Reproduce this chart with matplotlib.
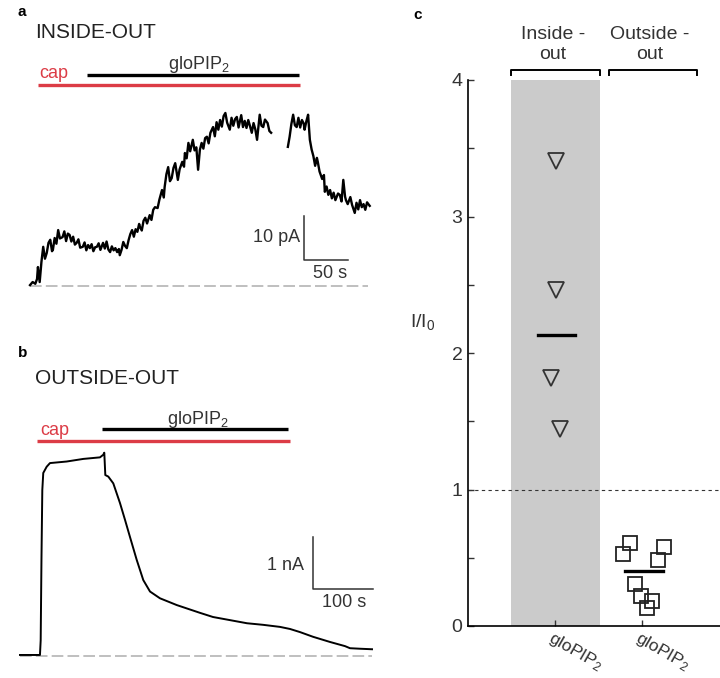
import matplotlib.pyplot as plt

plt.rcParams['font.family'] = ['Liberation Sans', 'DejaVu Sans']
plt.rcParams['mathtext.fontset'] = 'custom'
plt.rcParams['mathtext.rm'] = 'Liberation Sans'
plt.rcParams['mathtext.it'] = 'Liberation Sans:italic'

# ---- panel a: inside-out recording (time in s, current in pA), two segments
t_in1 = [0, 3, 6, 8, 9, 11, 13, 15, 17, 19,
         21, 23, 25, 26, 28, 30, 32, 34, 37, 39,
         41, 43, 45, 47, 49, 51, 53, 55, 57, 60,
         62, 64, 66, 68, 70, 72, 74, 76, 78, 80,
         83, 85, 87, 89, 91, 93, 95, 97, 99, 101,
         102, 104, 106, 108, 110, 112, 114, 116, 118, 120,
         122, 124, 125, 127, 129, 131, 133, 136, 138, 140,
         142, 145, 147, 150, 152, 153, 155, 157, 159, 161,
         163, 165, 168, 170, 173, 175, 176, 178, 180, 182,
         185, 187, 189, 191, 193, 195, 197, 199, 201, 203,
         205, 208, 210, 212, 214, 216, 218, 220, 222, 224,
         227, 229, 231, 233, 235, 237, 240, 242, 244, 246,
         248, 250, 252, 254, 256, 258, 261, 263, 265, 267,
         270, 272, 274]
i_in1 = [0.2, 0.9, 0.5, 1.6, 4.3, 0.9, 5.5, 8.9, 6.2, 7.5,
         9.8, 10.5, 7.9, 8.2, 10.9, 9.6, 12.7, 10.8, 11.1, 12.4,
         10.2, 11.9, 11.6, 10.1, 11.2, 9.4, 9.8, 10.6, 8.7, 8.9,
         9.9, 8.1, 9.3, 8.6, 9.5, 7.9, 8.8, 8.9, 9.7, 8.2,
         9.8, 8.5, 10.1, 8.3, 7.7, 9.0, 8.1, 8.6, 7.7, 8.4,
         7.0, 8.2, 10.0, 9.1, 8.6, 10.4, 11.8, 12.7, 11.2, 12.9,
         12.3, 14.1, 13.4, 12.6, 14.8, 15.5, 14.2, 16.1, 15.0, 17.3,
         17.9, 17.7, 19.6, 21.8, 20.1, 22.5, 25.4, 27.0, 23.8, 24.5,
         26.8, 27.9, 24.1, 26.5, 28.2, 27.1, 30.2, 29.0, 32.5, 30.6,
         33.2, 30.8, 31.5, 26.4, 30.9, 32.5, 31.2, 33.6, 33.9, 32.4,
         34.8, 36.1, 34.0, 37.2, 35.5, 37.7, 36.2, 38.6, 39.3, 37.1,
         35.5, 38.2, 36.4, 37.9, 38.4, 36.0, 38.8, 36.1, 37.5, 35.9,
         37.7, 36.3, 34.8, 37.0, 35.6, 33.2, 38.9, 36.4, 36.1, 37.8,
         37.0, 35.2, 34.8]
t_in2 = [293, 295, 297, 299, 301, 303, 305, 307, 309, 311,
         312, 314, 316, 318, 320, 322, 324, 326, 327, 329,
         332, 334, 335, 337, 339, 341, 343, 345, 347, 350,
         352, 354, 356, 358, 359, 361, 364, 366, 369, 371,
         373, 375, 377, 379, 381, 383, 386]
i_in2 = [31.6, 33.9, 36.8, 38.9, 36.5, 36.1, 38.2, 36.0, 37.7, 36.9,
         35.5, 37.4, 38.9, 33.2, 31.0, 29.5, 27.3, 29.1, 28.2, 26.0,
         24.3, 25.2, 21.4, 22.6, 20.7, 21.8, 19.9, 21.2, 19.5, 21.0,
         20.7, 19.2, 24.1, 20.3, 19.5, 18.6, 20.2, 18.4, 16.6, 18.9,
         17.4, 19.5, 17.9, 18.6, 17.3, 19.0, 18.2]
cap_a = [9, 307]       # s
pip_a = [65, 306]      # s
bar_a = [10, 50]       # pA, s

# ---- panel b: outside-out recording (time in s, current in nA)
t_out = [0, 33.3, 34.5, 35.8, 37.2, 38.8, 44.5, 50, 77.8, 105.5,
         133.3, 138.8, 140.5, 142.2, 147.2, 155.5, 166.7, 175, 183.3, 194.5,
         205.5, 216.7, 233.3, 261.2, 300, 321.7, 350, 378.3, 405, 433.3,
         450, 466.7, 488.3, 516.7, 541.7, 550, 566.7, 586.7]
i_out = [0.02, 0.02, 0.3, 1.85, 3.19, 3.52, 3.64, 3.71, 3.74, 3.79,
         3.82, 3.87, 3.91, 3.48, 3.45, 3.32, 2.94, 2.62, 2.29, 1.85,
         1.46, 1.24, 1.11, 0.98, 0.83, 0.75, 0.69, 0.63, 0.60, 0.56,
         0.52, 0.46, 0.37, 0.27, 0.19, 0.15, 0.14, 0.13]
cap_b = [28, 450]
pip_b = [137, 447]
bar_b = [1, 100]       # nA, s

# ---- panel c: I/I0
groups = ['Inside -\nout', 'Outside -\nout']
cat_labels = ['gloPIP$\\mathregular{_2}$', 'gloPIP$\\mathregular{_2}$']
io_x = [1.01, 1.01, 0.96, 1.06]
io_y = [3.41, 2.46, 1.82, 1.44]
io_mean = 2.13
oo_x = [1.86, 1.78, 2.26, 2.19, 1.92, 1.99, 2.12, 2.06]
oo_y = [0.61, 0.53, 0.58, 0.48, 0.31, 0.22, 0.18, 0.13]
oo_mean = 0.40

RED = '#dc3c46'
TXT = '#333333'
W, H = 720, 678


def box(l, t, r, b):
    return [l / W, 1 - b / H, (r - l) / W, (b - t) / H]


fig = plt.figure(figsize=(W / 100, H / 100), dpi=100)

# panel a
ax = fig.add_axes(box(0, 50, 380, 300))
ax.set_xlim(-34.1, 397.7)
ax.set_ylim(-3.18, 53.6)
ax.axis('off')
ax.plot([0, 384], [0, 0], color='#b4b4b4', lw=1.2, ls=(0, (7, 2.5)))
ax.plot(t_in1, i_in1, color='k', lw=1.7)
ax.plot(t_in2, i_in2, color='k', lw=1.7)
ax.plot(cap_a, [45.7, 45.7], color=RED, lw=2.4, solid_capstyle='butt')
ax.plot(pip_a, [48.0, 48.0], color='k', lw=2.4, solid_capstyle='butt')
ax.text(11, 48.3, 'cap', color=RED, fontsize=13, ha='left', va='center')
ax.text(192, 50.4, 'gloPIP$\\mathregular{_2}$', fontsize=13, ha='center', va='center', color=TXT)
x0, y0 = 311, 5.9
ax.plot([x0, x0, x0 + bar_a[1]], [y0 + bar_a[0], y0, y0], color=TXT, lw=1.1)
ax.text(x0 - 4, y0 + 5.2, '%d pA' % bar_a[0], fontsize=13, ha='right', va='center', color=TXT)
ax.text(x0 + 30, y0 - 3.0, '%d s' % bar_a[1], fontsize=13, ha='center', va='center', color=TXT)

# panel b
ax = fig.add_axes(box(0, 400, 380, 670))
ax.set_xlim(-33.3, 600)
ax.set_ylim(-0.269, 4.923)
ax.axis('off')
ax.plot([0, 587], [0, 0], color='#b4b4b4', lw=1.2, ls=(0, (7, 2.5)))
ax.plot(t_out, i_out, color='k', lw=1.4)
ax.plot(cap_b, [4.13, 4.13], color=RED, lw=2.4, solid_capstyle='butt')
ax.plot(pip_b, [4.37, 4.37], color='k', lw=2.4, solid_capstyle='butt')
ax.text(33, 4.33, 'cap', color=RED, fontsize=13, ha='left', va='center')
ax.text(297, 4.55, 'gloPIP$\\mathregular{_2}$', fontsize=13, ha='center', va='center', color=TXT)
x0, y0 = 488, 1.29
ax.plot([x0, x0, x0 + bar_b[1]], [y0 + bar_b[0], y0, y0], color=TXT, lw=1.1)
ax.text(x0 - 14, y0 + 0.46, '%d nA' % bar_b[0], fontsize=13, ha='right', va='center', color=TXT)
ax.text(x0 + 53, y0 - 0.27, '%d s' % bar_b[1], fontsize=13, ha='center', va='center', color=TXT)

# panel c
ax = fig.add_axes(box(468, 80, 720, 626))
ax.set_xlim(0, 2.9)
ax.set_ylim(0, 4)
ax.axvspan(0.5, 1.52, color='#cbcbcb', lw=0, zorder=0)
ax.axhline(1, color=TXT, lw=0.8, ls=(0, (3, 3)))
ax.plot(io_x, io_y, 'v', ms=11, mfc='none', mec=TXT, mew=1.3)
ax.plot([0.80, 1.23], [io_mean, io_mean], color='k', lw=2.4)
ax.plot(oo_x, oo_y, 's', ms=10, mfc='none', mec='#222222', mew=1.3)
ax.plot([1.81, 2.24], [oo_mean, oo_mean], color='k', lw=2.4)
for (a, b), g in zip([(0.5, 1.52), (1.62, 2.63)], groups):
    ax.plot([a, a, b, b], [4.04, 4.07, 4.07, 4.04], color='k', lw=1.4, clip_on=False)
    ax.text((a + b) / 2 - 0.03, 4.26, g, fontsize=14, ha='center', va='center',
            color=TXT, linespacing=1.3)
for s in ['top', 'right']:
    ax.spines[s].set_visible(False)
for s in ['left', 'bottom']:
    ax.spines[s].set_linewidth(1.2)
ax.set_yticks([0, 1, 2, 3, 4])
ax.set_yticks([0.5, 1.5, 2.5, 3.5], minor=True)
ax.set_xticks([1, 2])
ax.set_xticklabels(cat_labels, rotation=-30, ha='left', va='top', rotation_mode='anchor')
ax.tick_params(axis='both', which='both', direction='in', length=4, width=1,
               labelsize=14, pad=4, colors=TXT)
ax.tick_params(axis='x', labelsize=12.5, pad=2)
fig.text(423 / W, 1 - 322 / H, 'I/I$\\mathregular{_0}$', fontsize=14,
         ha='center', va='center', color=TXT)

fig.text(18 / W, 1 - 12 / H, 'a', fontsize=11, weight='bold', va='center')
fig.text(18 / W, 1 - 353 / H, 'b', fontsize=11, weight='bold', va='center')
fig.text(413 / W, 1 - 15 / H, 'c', fontsize=11, weight='bold', va='center')
fig.text(35 / W, 1 - 32 / H, 'INSIDE-OUT', fontsize=15, va='center', color='#222222')
fig.text(35 / W, 1 - 378 / H, 'OUTSIDE-OUT', fontsize=15, va='center', color='#222222')

fig.savefig('out.png', dpi=100)
